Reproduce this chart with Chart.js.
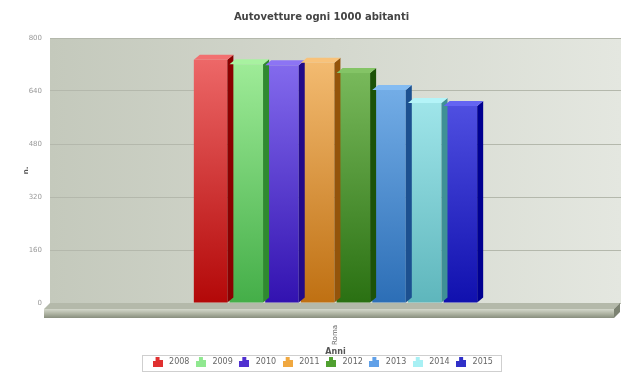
<!DOCTYPE html>
<html>
<head>
<meta charset="utf-8">
<script src="https://cdn.jsdelivr.net/npm/chart.js@4/dist/chart.umd.min.js"></script>
<style>
  html, body { margin: 0; padding: 0; background: #fff; }
  #wrap { width: 621px; height: 376px; }
</style>
</head>
<body>
<div id="wrap"><canvas id="chart" width="621" height="376"></canvas></div>
<script>
// dati: autovetture ogni 1000 abitanti, Roma
const categorie = ['Roma'];
const anni = ['2008', '2009', '2010', '2011', '2012', '2013', '2014', '2015'];
const valori = [734, 721, 718, 725, 694, 643, 604, 595];
const yTicks = [0, 160, 320, 480, 640, 800];

// colori: [chiaro in alto, scuro in basso, lato]
const colori = [
  ['#f27070', '#b30808', '#8a0000'],
  ['#a8f2a0', '#44ae48', '#2f8a30'],
  ['#8c74f4', '#3212b0', '#220a88'],
  ['#f8c27a', '#bf7012', '#94540a'],
  ['#84c466', '#2a7012', '#1c5208'],
  ['#84bcf2', '#2c6eb6', '#1c5090'],
  ['#b4f4f8', '#5eb6bc', '#3f9096'],
  ['#6464f2', '#1010ae', '#000090']
];
const coloriLegenda = ['#e03030', '#90e890', '#5030d0', '#f0a840', '#50a030', '#60a0e8', '#a8f0f4', '#3030c8'];

const DEPTH_X = 6, DEPTH_Y = 5;

function legendIcon(col) {
  const c = document.createElement('canvas');
  c.width = 10; c.height = 10;
  const g = c.getContext('2d');
  g.fillStyle = col;
  g.fillRect(0, 4, 3, 6);
  g.fillRect(3, 0, 4, 10);
  g.fillRect(7, 3, 3, 7);
  return c;
}

function gradiente(ctx, area, i) {
  if (!area) return colori[i][0];
  const g = ctx.createLinearGradient(0, area.top, 0, area.bottom);
  g.addColorStop(0, colori[i][0]);
  g.addColorStop(1, colori[i][1]);
  return g;
}

const datasets = anni.map((anno, i) => ({
  label: anno,
  data: [valori[i]],
  backgroundColor: (c) => gradiente(c.chart.ctx, c.chart.chartArea, i),
  borderWidth: 0,
  pointStyle: legendIcon(coloriLegenda[i])
}));

// sfondo del grafico, pavimento e facce 3D delle barre
const effetto3d = {
  id: 'effetto3d',
  beforeDraw(chart) {
    const { ctx, chartArea: a } = chart;
    const g = ctx.createLinearGradient(a.left, 0, a.right, 0);
    g.addColorStop(0, '#c4c9bc');
    g.addColorStop(1, '#e4e7e0');
    ctx.save();
    ctx.fillStyle = g;
    ctx.fillRect(a.left, a.top, a.right - a.left, a.bottom - a.top);
    ctx.restore();
  },
  beforeDatasetsDraw(chart) {
    const { ctx, chartArea: a } = chart;
    const y0 = chart.scales.y.getPixelForValue(0);
    const r = a.right - 1;
    ctx.save();
    // piano superiore
    ctx.fillStyle = '#b4b9aa';
    ctx.beginPath();
    ctx.moveTo(a.left, y0);
    ctx.lineTo(r, y0);
    ctx.lineTo(r - 6, y0 + 6);
    ctx.lineTo(a.left - 6, y0 + 6);
    ctx.closePath();
    ctx.fill();
    // bordo frontale
    const f = ctx.createLinearGradient(0, y0 + 6, 0, y0 + 15);
    f.addColorStop(0, '#d4d8cc');
    f.addColorStop(0.5, '#b0b5a4');
    f.addColorStop(1, '#888e7e');
    ctx.fillStyle = f;
    ctx.fillRect(a.left - 6, y0 + 6, r - a.left, 9);
    ctx.fillStyle = '#7c8272';
    ctx.beginPath();
    ctx.moveTo(r - 6, y0 + 6);
    ctx.lineTo(r, y0);
    ctx.lineTo(r, y0 + 9);
    ctx.lineTo(r - 6, y0 + 15);
    ctx.closePath();
    ctx.fill();
    ctx.restore();
  },
  afterDatasetsDraw(chart) {
    const { ctx } = chart;
    ctx.save();
    chart.data.datasets.forEach((ds, i) => {
      chart.getDatasetMeta(i).data.forEach((bar) => {
        const l = bar.x - bar.width / 2, r = bar.x + bar.width / 2;
        const t = bar.y, b = bar.base;
        // lato destro
        ctx.fillStyle = colori[i][2];
        ctx.beginPath();
        ctx.moveTo(r, t);
        ctx.lineTo(r + DEPTH_X, t - DEPTH_Y);
        ctx.lineTo(r + DEPTH_X, b - DEPTH_Y);
        ctx.lineTo(r, b);
        ctx.closePath();
        ctx.fill();
        // faccia superiore
        ctx.fillStyle = colori[i][0];
        ctx.beginPath();
        ctx.moveTo(l, t);
        ctx.lineTo(l + DEPTH_X, t - DEPTH_Y);
        ctx.lineTo(r + DEPTH_X, t - DEPTH_Y);
        ctx.lineTo(r, t);
        ctx.closePath();
        ctx.fill();
      });
    });
    ctx.restore();
  },
  afterDraw(chart) {
    const lg = chart.legend;
    const { ctx } = chart;
    const boxes = lg.legendHitBoxes;
    const x = boxes[0].left - 8;
    const last = boxes[boxes.length - 1];
    const w = last.left + last.width + 8 - x;
    const y = boxes[0].top - 3;
    ctx.save();
    ctx.strokeStyle = '#cfcfcf';
    ctx.lineWidth = 1;
    ctx.strokeRect(Math.round(x) + 0.5, Math.round(y) + 0.5, Math.round(w), boxes[0].height + 8);
    ctx.restore();
  }
};

new Chart(document.getElementById('chart'), {
  type: 'bar',
  data: { labels: categorie, datasets: datasets },
  options: {
    responsive: false,
    animation: false,
    layout: { padding: { left: 22, right: 0, top: 0, bottom: 0 } },
    datasets: {
      bar: { categoryPercentage: 0.5, barPercentage: 0.94 }
    },
    plugins: {
      title: {
        display: true,
        text: 'Autovetture ogni 1000 abitanti',
        color: '#444',
        font: { family: 'DejaVu Sans', size: 10, weight: 'bold' },
        padding: { top: 11, bottom: 15 }
      },
      legend: {
        position: 'bottom',
        labels: {
          usePointStyle: true,
          pointStyleWidth: 15,
          boxWidth: 10,
          boxHeight: 10,
          padding: 4,
          color: '#666',
          font: { family: 'DejaVu Sans', size: 8 }
        }
      },
      tooltip: { enabled: false }
    },
    scales: {
      x: {
        afterFit: (s) => { s.height = 51; },
        grid: { display: false, drawTicks: false },
        border: { display: false },
        ticks: {
          minRotation: 90,
          maxRotation: 90,
          padding: 22,
          color: '#666',
          font: { family: 'DejaVu Sans', size: 7 }
        },
        title: {
          display: true,
          text: 'Anni',
          color: '#555',
          font: { family: 'DejaVu Sans', size: 8, weight: 'bold' },
          padding: { top: 0, bottom: -3 }
        }
      },
      y: {
        min: 0,
        max: 800,
        afterFit: (s) => { s.width = 28; },
        afterBuildTicks: (s) => { s.ticks = yTicks.map((v) => ({ value: v })); },
        grid: { color: '#b4b8ac', drawTicks: false },
        border: { display: false },
        ticks: {
          padding: 8,
          color: '#999',
          font: { family: 'DejaVu Sans', size: 7 }
        },
        title: {
          display: true,
          text: 'n.',
          color: '#555',
          font: { family: 'DejaVu Sans', size: 7, weight: 'bold' },
          padding: { top: 0, bottom: 0 }
        }
      }
    }
  },
  plugins: [effetto3d]
});
</script>
</body>
</html>
